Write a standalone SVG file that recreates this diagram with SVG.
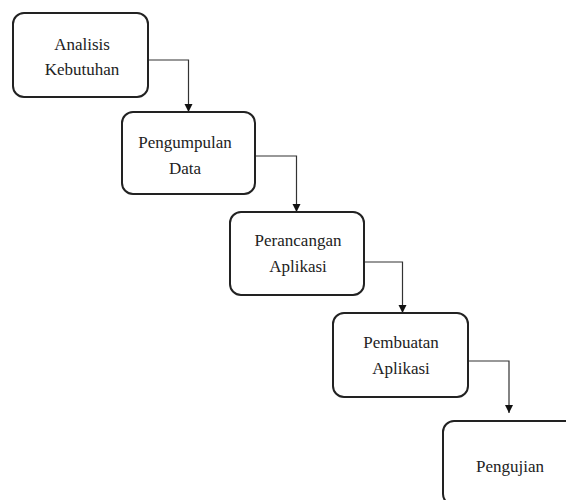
<svg xmlns="http://www.w3.org/2000/svg" width="566" height="500" viewBox="0 0 566 500">
<style>
.box{fill:#fff;stroke:#222;stroke-width:2}
text{font-family:'Liberation Serif','Times New Roman',Tinos,'DejaVu Serif',serif;font-size:17px;fill:#222;text-anchor:middle}
.c{fill:none;stroke:#333;stroke-width:1.2}
</style>
<defs>
<marker id="ah" viewBox="0 0 10 10" refX="10" refY="5" markerWidth="8" markerHeight="10" markerUnits="userSpaceOnUse" orient="auto">
<path d="M0,0 L10,5 L0,10 Z" fill="#111"/>
</marker>
</defs>
<rect width="566" height="500" fill="#fff"/>
<g id="connectors">
<path class="c" d="M148,60 H188.5 V112" marker-end="url(#ah)"/>
<path class="c" d="M255,156 H296.5 V212" marker-end="url(#ah)"/>
<path class="c" d="M364,262 H402.5 V313" marker-end="url(#ah)"/>
<path class="c" d="M468,361 H509 V413" marker-end="url(#ah)"/>
</g>
<g id="n1">
<rect class="box" x="13" y="13" width="135" height="84" rx="11"/>
<text x="82" y="50">Analisis</text>
<text x="82" y="75">Kebutuhan</text>
</g>
<g id="n2">
<rect class="box" x="122" y="112" width="133" height="82" rx="11"/>
<text x="185" y="148">Pengumpulan</text>
<text x="185" y="174">Data</text>
</g>
<g id="n3">
<rect class="box" x="230" y="212" width="134" height="83" rx="11"/>
<text x="298" y="246">Perancangan</text>
<text x="298" y="272">Aplikasi</text>
</g>
<g id="n4">
<rect class="box" x="333" y="313" width="135" height="84" rx="11"/>
<text x="401" y="348">Pembuatan</text>
<text x="401" y="374">Aplikasi</text>
</g>
<g id="n5">
<rect class="box" x="443" y="421" width="135" height="84" rx="11"/>
<text x="510" y="472">Pengujian</text>
</g>
</svg>
